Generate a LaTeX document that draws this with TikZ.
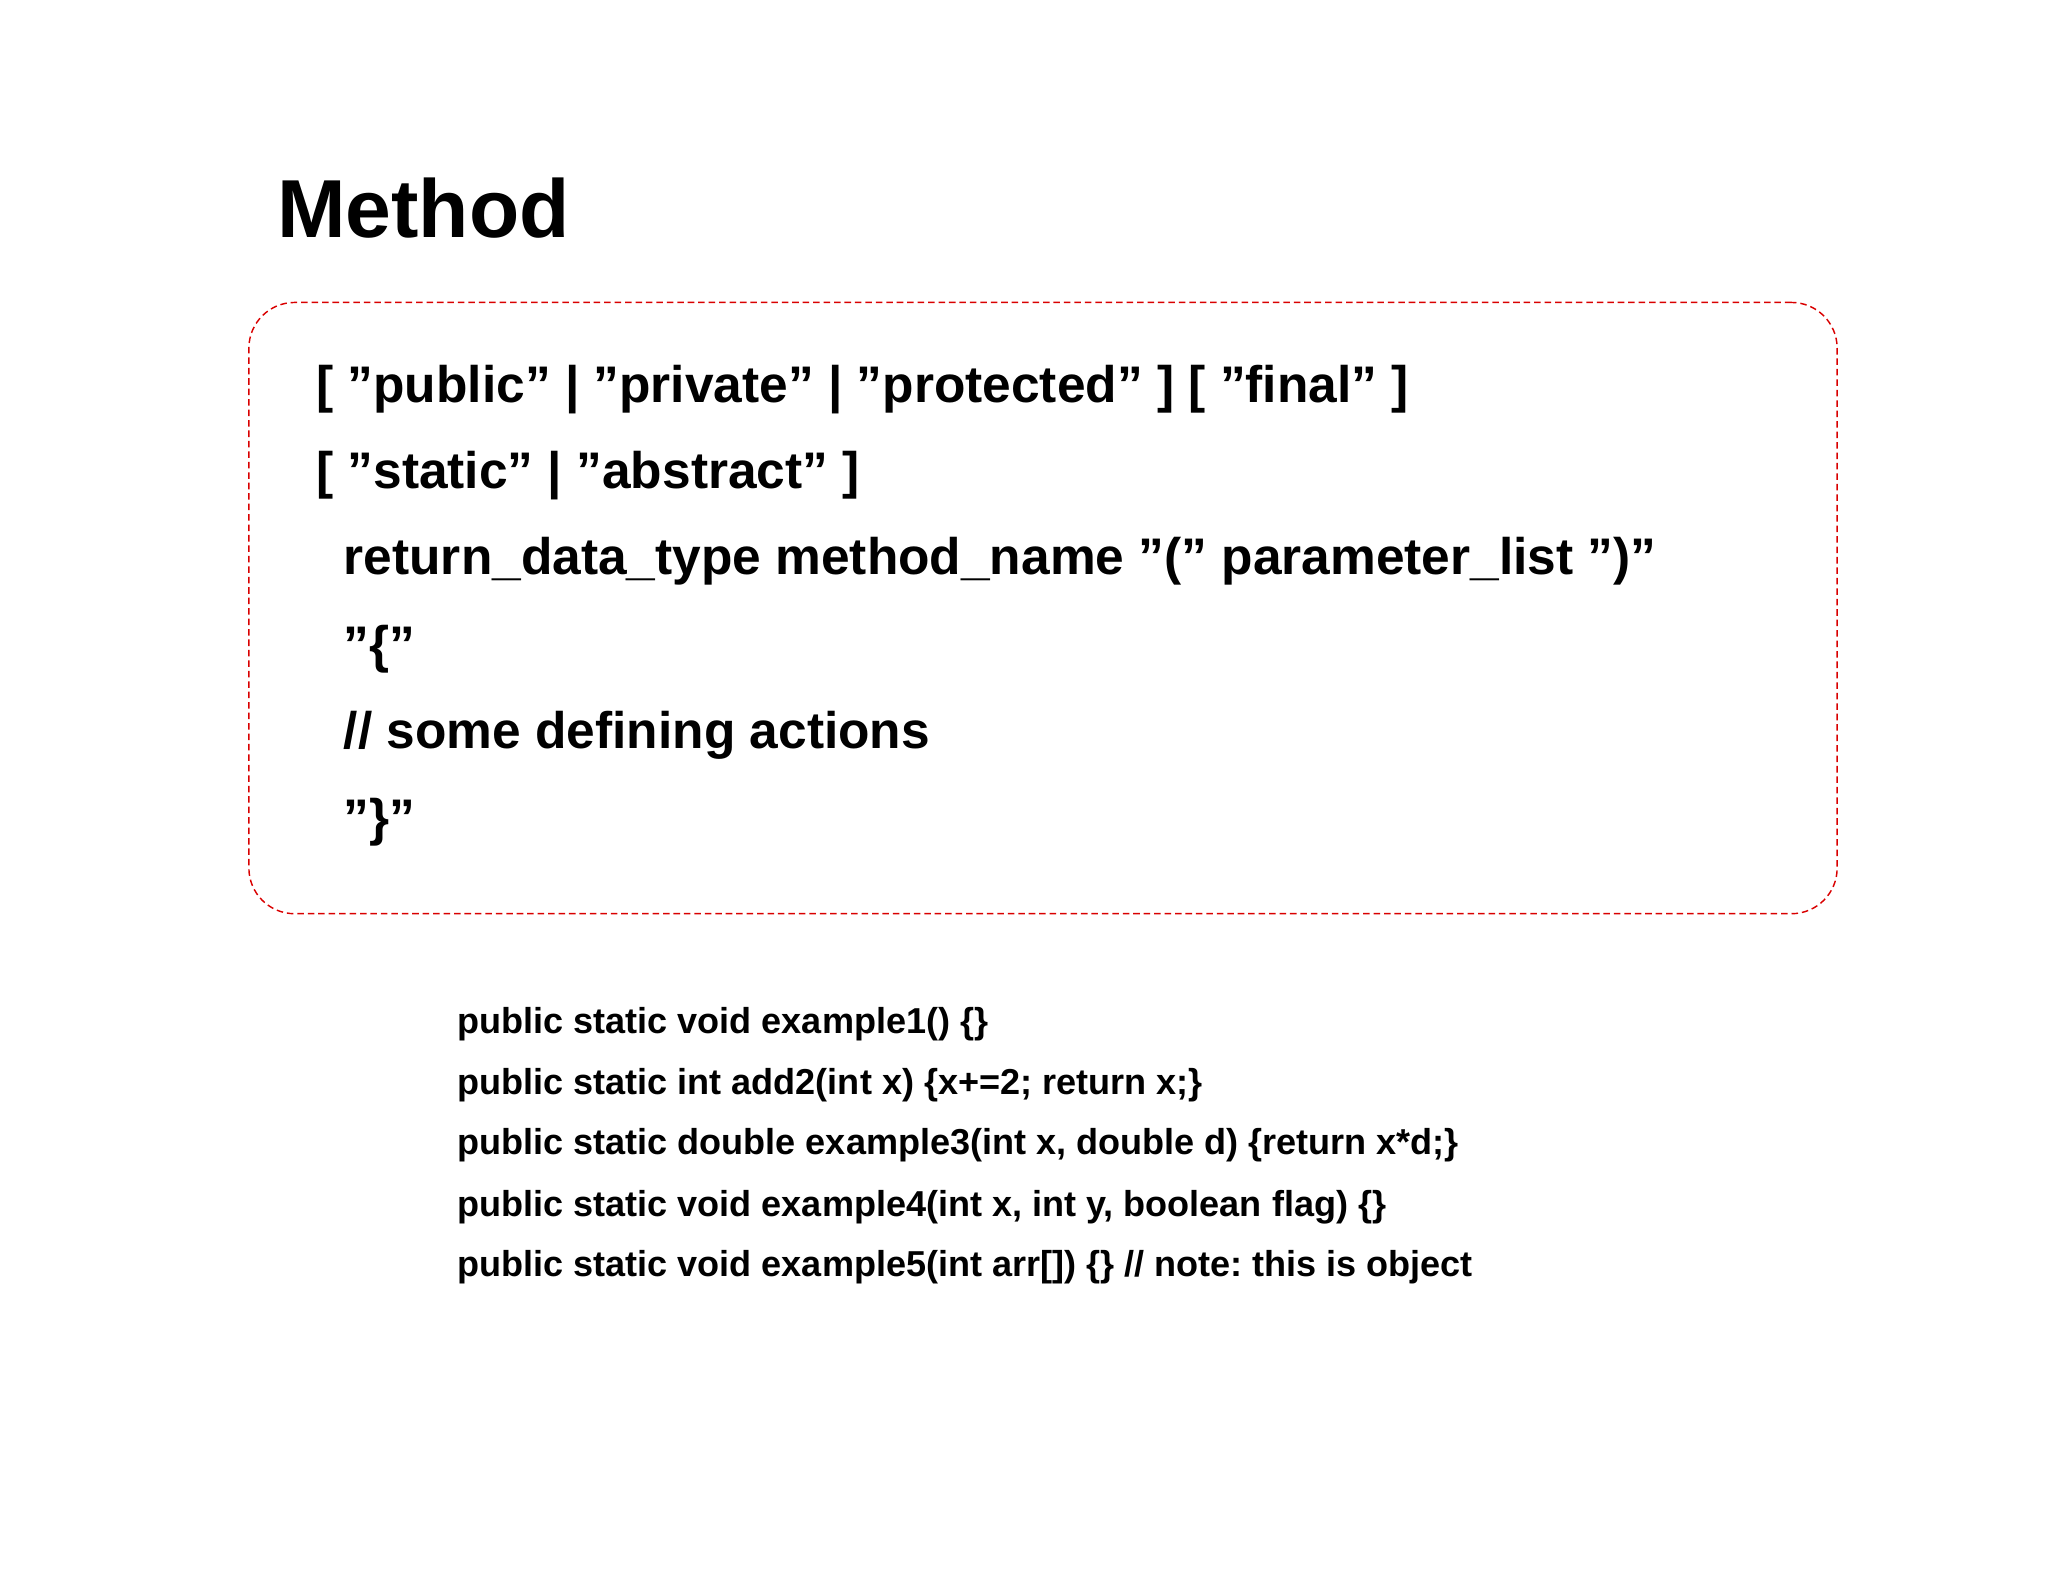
\documentclass[tikz,border=0pt]{standalone}
\usepackage{fontspec}
\setmainfont{Liberation Sans}
\newcommand\qt{\char34\relax}
\begin{document}
\begin{tikzpicture}[x=1pt,y=-1pt,
  big/.style={anchor=base west,inner sep=0pt,font=\fontsize{39.4}{48}\selectfont\bfseries},
  small/.style={anchor=base west,inner sep=0pt,font=\fontsize{27.6}{32}\selectfont\bfseries}]
\useasboundingbox (0,0) rectangle (1568,1211);
\node[anchor=base west,inner sep=0pt,font=\fontsize{63}{70}\selectfont\bfseries] (title) at (212,182) {Method};
\node[draw=red!85!black,dash pattern=on 5pt off 3pt,line width=1.1pt,rounded corners=35pt,minimum width=1216pt,minimum height=468pt,anchor=north west] (box) at (190,231) {};
\node[big] (l1) at (242,308) {[ \qt public\qt{} | \qt private\qt{} | \qt protected\qt{} ] [ \qt final\qt{} ]};
\node[big] (l2) at (242,374) {[ \qt static\qt{} | \qt abstract\qt{} ]};
\node[big] (l3) at (263,440) {return\_data\_type method\_name \qt(\qt{} parameter\_list \qt)\qt};
\node[big] (l4) at (263,507) {\qt\{\qt};
\node[big] (l5) at (263,573) {// some defining actions};
\node[big] (l6) at (263,640) {\qt\}\qt};
\node[small] (e1) at (350,791) {public static void example1() \{\}};
\node[small] (e2) at (350,838) {public static int add2(int x) \{x+=2; return x;\}};
\node[small] (e3) at (350,884) {public static double example3(int x, double d) \{return x*d;\}};
\node[small] (e4) at (350,931) {public static void example4(int x, int y, boolean flag) \{\}};
\node[small] (e5) at (350,977) {public static void example5(int arr[]) \{\} // note:\ this is object};
\end{tikzpicture}
\end{document}
